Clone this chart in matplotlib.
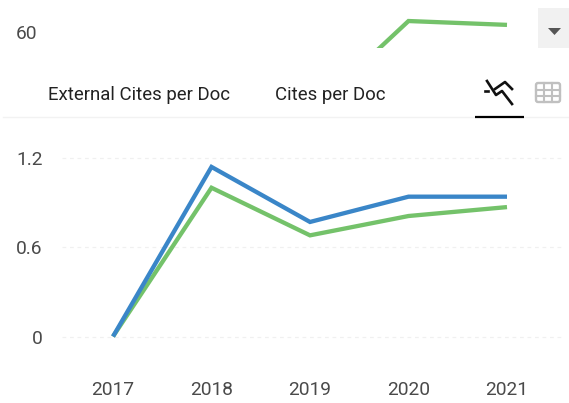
#!/usr/bin/env python
# Cites per doc line chart, with the clipped panel above it
import matplotlib
matplotlib.use('Agg')
import matplotlib.pyplot as plt
from matplotlib.patches import FancyBboxPatch, Rectangle, Polygon

W, H = 569, 403

years = [2017, 2018, 2019, 2020, 2021]
external_cites = [0, 1.0, 0.68, 0.81, 0.87]
cites = [0, 1.14, 0.77, 0.94, 0.94]
y_ticks = [0, 0.6, 1.2]
y_labels = ['0', '0.6', '1.2']

top_years = [2019, 2020, 2021]
top_values = [32.7, 63.7, 62.4]

tab_labels = ['External Cites per Doc', 'Cites per Doc']

GREEN = '#74c26a'
BLUE = '#3a86c8'
TEXT = '#4a4a4a'

plt.rcParams['font.family'] = ['Roboto', 'DejaVu Sans']


def add_axes_px(fig, left, top, right, bottom):
    return fig.add_axes([left / W, 1 - bottom / H, (right - left) / W, (bottom - top) / H])


def year_at(px):
    return 2017 + (px - 113) / 98.5


fig = plt.figure(figsize=(W / 100, H / 100), dpi=100)

# main chart
ax = add_axes_px(fig, 62, 125, 562, 375)
ax.set_xlim(year_at(62), year_at(562))
# 0 at 336.5 px, 1.2 at 158 px
per_px = 1.2 / (336.5 - 158)
ax.set_ylim(-(375 - 336.5) * per_px, (336.5 - 125) * per_px)
ax.plot(years, external_cites, color=GREEN, lw=3.1, solid_joinstyle='miter', solid_capstyle='butt', zorder=3)
ax.plot(years, cites, color=BLUE, lw=3.1, solid_joinstyle='miter', solid_capstyle='butt', zorder=4)
ax.set_yticks(y_ticks, y_labels)
ax.set_xticks(years, [str(y) for y in years])
ax.tick_params(length=0, labelsize=13.8, labelcolor=TEXT)
ax.tick_params(axis='y', pad=14)
ax.tick_params(axis='x', pad=4)
ax.grid(axis='y', color='#f0f0f0', lw=0.9, ls=(0, (3, 3)))
for s in ax.spines.values():
    s.set_visible(False)

# what is left of the panel above
top = add_axes_px(fig, 62, 0, 562, 48)
top.set_xlim(year_at(62), year_at(562))
top.set_ylim(60 - 16 * 30 / 89, 60 + 32 * 30 / 89)
top.plot(top_years, top_values, color=GREEN, lw=3.1, solid_joinstyle='miter', solid_capstyle='butt')
top.set_yticks([60], ['60'])
top.set_xticks([])
top.tick_params(length=0, labelsize=13.8, labelcolor=TEXT, pad=18)
top.patch.set_alpha(0)
for s in top.spines.values():
    s.set_visible(False)

# tabs and buttons, in pixel coordinates
ui = fig.add_axes([0, 0, 1, 1])
ui.set_xlim(0, W)
ui.set_ylim(H, 0)
ui.axis('off')
ui.patch.set_alpha(0)

ui.add_patch(Rectangle((538, 8), 31, 40, color='#f1f1f1', lw=0))
ui.add_patch(Polygon([(548, 28), (561, 28), (554.5, 35)], color='#555555', lw=0))

ui.text(48, 95, tab_labels[0], fontsize=13.4, color='#222222', va='center')
ui.text(275, 95, tab_labels[1], fontsize=13.4, color='#222222', va='center')

ui.plot([3, 569], [117, 117], color='#f2f2f2', lw=1)
ui.plot([475, 524], [117, 117], color='black', lw=1.6, solid_capstyle='butt')

# line icon
ui.plot([487, 496, 502, 512], [81, 95, 91, 104], color='#111111', lw=1.9)
ui.plot([485.5, 488], [91, 91], color='#111111', lw=1.9)
ui.plot([495, 505, 512], [89, 82, 89], color='#111111', lw=1.9)

# table icon
ui.add_patch(FancyBboxPatch((536, 83), 24, 19, boxstyle='round,pad=0,rounding_size=2',
                            fill=False, ec='#c0c0c0', lw=1.7))
for gx in [544, 552]:
    ui.plot([gx, gx], [83, 102], color='#c0c0c0', lw=1.5)
for gy in [89.5, 95.5]:
    ui.plot([536, 560], [gy, gy], color='#c0c0c0', lw=1.5)

fig.savefig('out.png', dpi=100)
